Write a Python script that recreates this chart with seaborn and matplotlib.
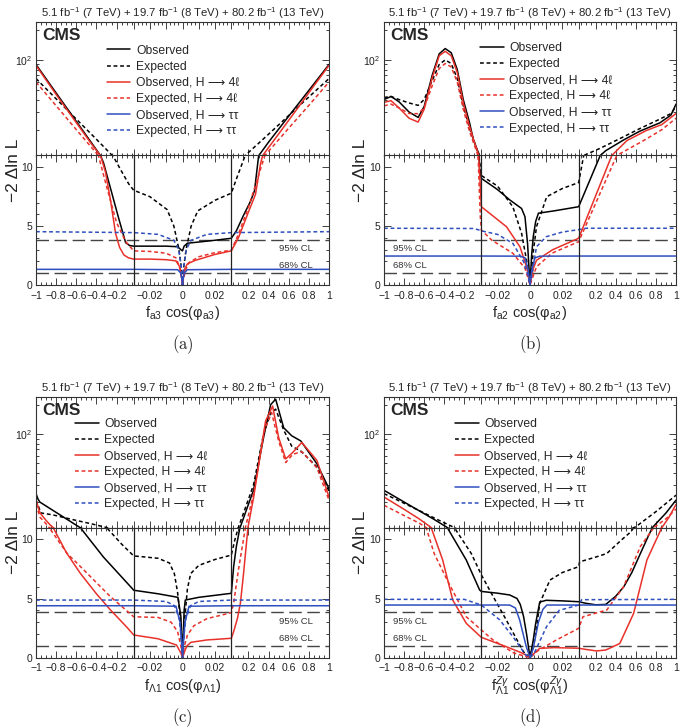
import numpy as np
import pandas as pd
import matplotlib
matplotlib.use("Agg")
import matplotlib.pyplot as plt
import seaborn as sns
from matplotlib.ticker import FixedLocator, FixedFormatter, NullFormatter, LogLocator

# SERIES / STYLE
labels = ["Observed", "Expected",
          "Observed, H \u27f6 4\u2113", "Expected, H \u27f6 4\u2113",
          "Observed, H \u27f6 \u03c4\u03c4", "Expected, H \u27f6 \u03c4\u03c4"]
line_colors = ["black", "black", "#e8312a", "#e8312a", "#2f4fbf", "#2f4fbf"]
line_dashes = ["", (2.5, 1.8), "", (2.5, 1.8), "", (2.5, 1.8)]

# PANEL (a): f_a3 cos(phi_a3)
a_obs_x = [-1, -0.8, -0.6, -0.45, -0.36, -0.33, -0.25, -0.18, -0.11, -0.07, -0.03,
           -0.02, -0.01, -0.003, -0.001, 0, 0.001, 0.003, 0.01, 0.02, 0.03,
           0.08, 0.15, 0.22, 0.26, 0.3, 0.32, 0.4, 0.6, 0.8, 1]
a_obs_y = [90, 46.6, 24.2, 14.8, 11.0, 10.4, 7.9, 5.7, 3.6, 3.35, 3.3,
           3.3, 3.3, 3.25, 3.0, 2.9, 3.3, 3.55, 3.65, 3.8, 3.97,
           4.6, 5.9, 7.1, 8.0, 10.9, 11.6, 15, 27.3, 49.5, 90]
a_exp_x = [-1, -0.8, -0.6, -0.4, -0.25, -0.16, -0.08, -0.03,
           -0.02, -0.0094, -0.0053, -0.0023, -0.0008, 0, 0.0008, 0.0023, 0.0053, 0.0094, 0.02, 0.03,
           0.08, 0.15, 0.18, 0.4, 0.6, 0.8, 1]
a_exp_y = [65, 40.7, 25.5, 16, 11.2, 9.8, 8.6, 8.05,
           7.5, 6.4, 5.0, 3.1, 1.6, 0, 1.6, 3.1, 5.0, 6.3, 7.2, 7.8,
           9.0, 10.6, 11.3, 18, 27.7, 42.5, 65]
a_4l_obs_x = [-1, -0.8, -0.6, -0.45, -0.37, -0.31, -0.26, -0.21, -0.17, -0.127, -0.08, -0.03,
              -0.02, -0.01, -0.004, -0.0015, -0.0005, 0, 0.0005, 0.0015, 0.003, 0.008, 0.02, 0.03,
              0.1, 0.2, 0.27, 0.32, 0.35, 0.5, 0.7, 0.85, 1]
a_4l_obs_y = [88, 45, 23.5, 14.4, 11.3, 9.6, 7.2, 4.4, 3.2, 2.55, 2.3, 2.2,
              2.2, 2.15, 2.05, 1.5, 0.6, 0, 0.6, 1.4, 1.8, 2.1, 2.6, 2.9,
              4.0, 6.2, 7.7, 10.3, 11.3, 18.1, 34, 55, 88]
a_4l_exp_x = [-1, -0.8, -0.6, -0.38, -0.3, -0.2, -0.11, -0.03,
              -0.02, -0.01, -0.004, -0.002, -0.0007, 0, 0.0007, 0.002, 0.004, 0.01, 0.02, 0.03,
              0.1, 0.2, 0.3, 0.37, 0.6, 0.8, 1]
a_4l_exp_y = [60, 34.7, 20, 11, 8.4, 5.3, 3.7, 2.9,
              2.85, 2.7, 2.3, 1.6, 0.7, 0, 0.6, 1.3, 1.9, 2.4, 2.75, 2.95,
              4.3, 6.6, 9.3, 11.2, 20.7, 35, 60]
a_tt_obs_x = [-1, -0.03, -0.003, -0.001, -0.0003, 0, 0.0003, 0.001, 0.003, 0.03, 1]
a_tt_obs_y = [1.33, 1.33, 1.3, 1.0, 0.4, 0, 0.4, 1.0, 1.3, 1.33, 1.33]
a_tt_exp_x = [-1, -0.03, -0.015, -0.0053, -0.0023, -0.0008, 0, 0.0008, 0.0023, 0.0053, 0.015, 0.03, 1]
a_tt_exp_y = [4.53, 4.45, 4.3, 3.8, 3.0, 1.6, 0, 1.6, 3.0, 3.8, 4.3, 4.45, 4.53]

# PANEL (b): f_a2 cos(phi_a2)
b_obs_x = [-1, -0.93, -0.85, -0.75, -0.66, -0.6, -0.52, -0.45, -0.39, -0.33, -0.27, -0.21,
           -0.15, -0.11, -0.07, -0.055, -0.047, -0.03,
           -0.02, -0.0124, -0.0052, -0.0031, -0.0015, 0, 0.001, 0.002, 0.0035, 0.0052, 0.015, 0.03,
           0.245, 0.3, 0.48, 0.64, 0.84, 0.95, 1]
b_obs_y = [40, 43, 38, 30, 26.5, 34, 70, 115, 130, 118, 80, 40,
           24, 16, 12.5, 11.5, 9.8, 9.06,
           8.1, 7.22, 6.5, 5.8, 3.5, 0, 2.5, 4.1, 5.4, 6.1, 6.3, 6.65,
           11, 12.3, 15.8, 19.3, 23.4, 28, 36]
b_exp_x = [-1, -0.93, -0.85, -0.75, -0.66, -0.6, -0.52, -0.45, -0.39, -0.33, -0.27, -0.21,
           -0.15, -0.1, -0.07, -0.055, -0.04, -0.03,
           -0.02, -0.0106, -0.0052, -0.002, 0, 0.002, 0.004, 0.0103, 0.02, 0.03,
           0.08, 0.245, 0.48, 0.64, 0.84, 0.95, 1]
b_exp_y = [42, 43, 40, 37, 35, 40, 62, 90, 100, 92, 65, 35,
           21, 15, 12, 11, 10, 9.3,
           8.4, 6.65, 4.4, 2.0, 0, 2.8, 4.95, 7.5, 8.2, 8.7,
           11, 13, 17, 20.5, 25.5, 29, 34]
b_4l_obs_x = [-1, -0.93, -0.85, -0.75, -0.66, -0.6, -0.52, -0.45, -0.39, -0.33, -0.27, -0.21,
              -0.15, -0.1, -0.07, -0.058, -0.045, -0.035, -0.03,
              -0.0145, -0.0062, -0.002, 0, 0.002, 0.004, 0.014, 0.03,
              0.36, 0.51, 0.7, 0.86, 1]
b_4l_obs_y = [37.5, 39, 33, 26, 23.8, 32, 66, 110, 122, 110, 75, 37,
              22, 15, 12.3, 11.2, 9.2, 7.5, 6.65,
              4.95, 3.25, 1.5, 0, 1.4, 2.1, 3.0, 3.97,
              11, 15.5, 19.5, 22.5, 29]
b_4l_exp_x = [-1, -0.93, -0.85, -0.75, -0.66, -0.6, -0.52, -0.45, -0.39, -0.33, -0.27, -0.21,
              -0.15, -0.1, -0.07, -0.06, -0.05, -0.04, -0.03,
              -0.0235, -0.0106, -0.003, 0, 0.004, 0.0135, 0.03,
              0.41, 0.69, 0.86, 1]
b_4l_exp_y = [34.6, 36, 33, 29, 28.9, 33, 55, 82, 92, 85, 60, 32,
              19.5, 14, 11.5, 10.5, 8.0, 5.8, 4.67,
              3.8, 2.7, 1.4, 0, 1.55, 2.7, 3.68,
              11, 15.8, 20, 26]
b_tt_obs_x = [-1, -0.03, -0.006, -0.003, -0.001, 0, 0.001, 0.003, 0.006, 0.03, 1]
b_tt_obs_y = [2.46, 2.46, 2.45, 2.3, 1.2, 0, 1.2, 2.3, 2.45, 2.46, 2.46]
b_tt_exp_x = [-1, -0.1, -0.03, -0.02, -0.0106, -0.004, -0.0015, 0, 0.0015, 0.004, 0.01, 0.02, 0.03, 0.1, 1]
b_tt_exp_y = [4.82, 4.8, 4.6, 4.3, 3.54, 2.0, 0.9, 0, 1.2, 3.25, 4.1, 4.5, 4.7, 4.82, 4.82]

# PANEL (c): f_L1 cos(phi_L1)
c_obs_x = [-1, -0.98, -0.96, -0.57, -0.33, -0.046, -0.03,
           -0.015, -0.0028, -0.001, 0, 0.001, 0.0017, 0.01, 0.03,
           0.053, 0.08, 0.12, 0.25, 0.35, 0.42, 0.47, 0.55, 0.63, 0.72, 0.88, 1]
c_obs_y = [24.5, 21.5, 20, 11.1, 8.5, 5.86, 5.7,
           5.4, 5.1, 3.5, 0, 4.0, 4.87, 5.1, 5.44,
           7.7, 9.4, 11.2, 26.5, 92, 200, 228, 116, 96, 85, 49.5, 27.6]
c_exp_x = [-1, -0.95, -0.83, -0.6, -0.45, -0.3, -0.15, -0.03,
           -0.015, -0.008, -0.005, -0.003, -0.0015, 0, 0.0015, 0.003, 0.005, 0.01, 0.02, 0.03,
           0.063, 0.1, 0.25, 0.35, 0.42, 0.47, 0.55, 0.63, 0.72, 0.88, 1]
c_exp_y = [21, 15.5, 14.8, 13, 12, 11, 9.6, 8.6,
           8.4, 8.0, 7.1, 5.5, 3.5, 0, 3.5, 5.8, 7.1, 7.8, 8.3, 8.67,
           9.9, 11, 30, 100, 165, 180, 110, 75, 67, 46, 26]
c_4l_obs_x = [-1, -0.96, -0.9, -0.86, -0.83, -0.7, -0.56, -0.4, -0.26, -0.1, -0.03,
              -0.015, -0.0037, -0.001, 0, 0.0015, 0.0027, 0.0052, 0.015, 0.03,
              0.053, 0.09, 0.12, 0.15, 0.186, 0.195, 0.25, 0.37, 0.44, 0.5, 0.57, 0.64, 0.73, 0.88, 1]
c_4l_obs_y = [21, 15.5, 13, 11.7, 11, 8.9, 7.13, 5.4, 4.03, 2.6, 1.92,
              1.6, 1.07, 0.4, 0, 0.6, 1.0, 1.3, 1.5, 1.64,
              2.2, 3.3, 4.6, 7.0, 10.2, 11, 22, 136, 194, 92, 55.6, 64.8, 82, 53.6, 22.6]
c_4l_exp_x = [-1, -0.96, -0.9, -0.87, -0.69, -0.594, -0.26, -0.03,
              -0.015, -0.007, -0.003, -0.001, 0, 0.001, 0.003, 0.007, 0.015, 0.03,
              0.053, 0.1, 0.17, 0.25, 0.36, 0.43, 0.5, 0.57, 0.64, 0.73, 0.88, 1]
c_4l_exp_y = [19, 14, 12, 11, 8.8, 8.0, 5.15, 3.46,
              3.4, 3.0, 2.2, 1.0, 0, 0.9, 1.9, 2.7, 3.3, 3.8,
              4.6, 7.4, 11, 24, 110, 166, 85, 51, 62, 66, 45, 21]
c_tt_obs_x = [-1, -0.03, -0.004, -0.0015, -0.0005, 0, 0.0005, 0.0015, 0.004, 0.03, 1]
c_tt_obs_y = [4.39, 4.39, 4.35, 3.0, 1.2, 0, 1.2, 3.0, 4.35, 4.39, 4.39]
c_tt_exp_x = [-1, -0.03, -0.01, -0.005, -0.002, -0.0007, 0, 0.0007, 0.002, 0.005, 0.01, 0.03, 1]
c_tt_exp_y = [4.87, 4.87, 4.75, 4.4, 3.3, 1.6, 0, 1.6, 3.3, 4.4, 4.75, 4.87, 4.87]

# PANEL (d): f_L1^Zg cos(phi_L1^Zg)
d_obs_x = [-1, -0.7, -0.5, -0.37, -0.18, -0.047, -0.03,
           -0.02, -0.0125, -0.008, -0.006, -0.004, -0.002, 0, 0.002, 0.0035, 0.006, 0.01, 0.02, 0.03,
           0.1, 0.2, 0.3, 0.4, 0.48, 0.56, 0.645, 0.72, 0.765, 0.9, 1]
d_obs_y = [26.5, 17.5, 13.3, 11, 8.25, 5.72, 5.6,
           5.45, 5.3, 5.0, 4.5, 3.5, 1.9, 0, 1.5, 2.9, 4.7, 4.85, 4.8, 4.73,
           4.6, 4.47, 4.5, 5.2, 6.0, 7.2, 8.8, 10.2, 11, 15.5, 21]
d_exp_x = [-1, -0.8, -0.6, -0.45, -0.3, -0.13, -0.03,
           -0.0249, -0.02, -0.0146, -0.008, -0.004, 0, 0.002, 0.004, 0.006, 0.0123, 0.02, 0.03,
           0.04, 0.2, 0.31, 0.45, 0.545, 0.6, 0.8, 1]
d_exp_y = [24.5, 19.5, 15.5, 13, 11, 8.8, 7.0,
           5.72, 4.5, 3.18, 1.5, 0.5, 0, 0.8, 2.5, 4.6, 6.56, 7.2, 7.69,
           8.1, 8.5, 8.8, 9.9, 10.6, 11.2, 16, 23.6]
d_4l_obs_x = [-1, -0.8, -0.65, -0.53, -0.415, -0.315, -0.18, -0.03,
              -0.0146, -0.005, -0.001, 0, 0.002, 0.006, 0.015, 0.03,
              0.1, 0.209, 0.3, 0.44, 0.578, 0.71, 0.848, 0.86, 0.93, 1]
d_4l_obs_y = [22.6, 16.9, 13.5, 11, 8.25, 4.87, 2.9, 1.72,
              0.93, 0.4, 0.1, 0, 0.3, 0.79, 0.85, 0.8,
              0.7, 0.57, 0.65, 1.2, 3.75, 8.25, 10.8, 11, 14, 19]
d_4l_exp_x = [-1, -0.8, -0.65, -0.58, -0.5, -0.37, -0.18, -0.03,
              -0.0228, -0.01, 0, 0.005, 0.0163, 0.03,
              0.073, 0.31, 0.478, 0.645, 0.78, 0.9, 1]
d_4l_exp_y = [18.6, 14.6, 12.2, 11, 8.8, 6.56, 3.46, 2.34,
              1.5, 0.4, 0, 0.6, 1.5, 2.48,
              3.46, 4.03, 6.0, 9.4, 11, 13.5, 17]
d_tt_obs_x = [-1, -0.03, -0.0125, -0.009, -0.0064, -0.0023, 0, 0.002, 0.0052, 0.008, 0.0104, 0.03, 1]
d_tt_obs_y = [4.45, 4.45, 4.45, 4.2, 3.2, 0.93, 0, 0.8, 3.0, 4.1, 4.45, 4.45, 4.45]
d_tt_exp_x = [-1, -0.2, -0.03, -0.0187, -0.0105, -0.003, 0, 0.003, 0.0101, 0.018, 0.03, 0.06, 1]
d_tt_exp_y = [4.93, 4.93, 4.45, 3.2, 1.77, 0.3, 0, 0.5, 2.6, 4.0, 4.45, 4.9, 4.93]

lumi_text = ("5.1 fb$^{-1}$ (7 TeV) + 19.7 fb$^{-1}$ (8 TeV) + "
             "80.2 fb$^{-1}$ (13 TeV)")
xlabels = [r"f$_{\rm a3}$ cos(φ$_{\rm a3}$)",
           r"f$_{\rm a2}$ cos(φ$_{\rm a2}$)",
           r"f$_{\Lambda1}$ cos(φ$_{\Lambda1}$)",
           r"f$^{Z\gamma}_{\Lambda1}$ cos(φ$^{Z\gamma}_{\Lambda1}$)"]
captions = ["a", "b", "c", "d"]

# x tick layout: broken axis [-1,-0.03] | [-0.03,0.03] | [0.03,1]
major_x = [-1, -0.8, -0.6, -0.4, -0.2, -0.03, -0.02, -0.01, 0, 0.01, 0.02, 0.03,
           0.2, 0.4, 0.6, 0.8, 1]
major_lbl = ["\u22121", "\u22120.8", "\u22120.6", "\u22120.4", "\u22120.2", "",
             "\u22120.02", "", "0", "", "0.02", "", "0.2", "0.4", "0.6", "0.8", "1"]
minor_x = list(np.arange(-1, -0.03, 0.05)) + list(np.arange(-0.03, 0.03, 0.0025)) + \
    list(np.arange(0.05, 1.0001, 0.05))


def fwd(x):
    x = np.asarray(x, dtype=float)
    return np.where(x < -0.03, -0.5 + (x + 0.03) / 0.97,
                    np.where(x > 0.03, 0.5 + (x - 0.03) / 0.97, x / 0.06))


def inv(u):
    u = np.asarray(u, dtype=float)
    return np.where(u < -0.5, (u + 0.5) * 0.97 - 0.03,
                    np.where(u > 0.5, (u - 0.5) * 0.97 + 0.03, u * 0.06))


def make_frame(xs, ys):
    parts = []
    for lab, x, y in zip(labels, xs, ys):
        parts.append(pd.DataFrame({"x": x, "y": y, "series": lab}))
    return pd.concat(parts, ignore_index=True)


sns.set_style("ticks")
plt.rcParams["font.family"] = ["Liberation Sans", "DejaVu Sans"]
plt.rcParams["mathtext.fontset"] = "custom"
plt.rcParams["mathtext.rm"] = "Liberation Sans"
plt.rcParams["mathtext.it"] = "Liberation Sans:italic"
plt.rcParams["mathtext.bf"] = "Liberation Sans:bold"

W, H = 685, 728
fig = plt.figure(figsize=(W / 100, H / 100), dpi=100)

panels = [
    dict(xs=[a_obs_x, a_exp_x, a_4l_obs_x, a_4l_exp_x, a_tt_obs_x, a_tt_exp_x],
         ys=[a_obs_y, a_exp_y, a_4l_obs_y, a_4l_exp_y, a_tt_obs_y, a_tt_exp_y],
         px=(36, 329), py=(22, 155.5, 285), leg=(0.242, 0.83), cl="right"),
    dict(xs=[b_obs_x, b_exp_x, b_4l_obs_x, b_4l_exp_x, b_tt_obs_x, b_tt_exp_x],
         ys=[b_obs_y, b_exp_y, b_4l_obs_y, b_4l_exp_y, b_tt_obs_y, b_tt_exp_y],
         px=(384, 676), py=(22, 155.5, 285), leg=(0.329, 0.85), cl="left"),
    dict(xs=[c_obs_x, c_exp_x, c_4l_obs_x, c_4l_exp_x, c_tt_obs_x, c_tt_exp_x],
         ys=[c_obs_y, c_exp_y, c_4l_obs_y, c_4l_exp_y, c_tt_obs_y, c_tt_exp_y],
         px=(36, 329), py=(397, 527.5, 657.7), leg=(0.133, 0.84), cl="right"),
    dict(xs=[d_obs_x, d_exp_x, d_4l_obs_x, d_4l_exp_x, d_tt_obs_x, d_tt_exp_x],
         ys=[d_obs_y, d_exp_y, d_4l_obs_y, d_4l_exp_y, d_tt_obs_y, d_tt_exp_y],
         px=(384, 676), py=(397, 527.5, 657.7), leg=(0.243, 0.84), cl="left"),
]

palette = dict(zip(labels, line_colors))
dashes = dict(zip(labels, line_dashes))

for i, p in enumerate(panels):
    df = make_frame(p["xs"], p["ys"])
    x0, x1 = p["px"]
    yt, ym, yb = p["py"]
    ax_top = fig.add_axes([x0 / W, 1 - ym / H, (x1 - x0) / W, (ym - yt) / H])
    ax_bot = fig.add_axes([x0 / W, 1 - yb / H, (x1 - x0) / W, (yb - ym) / H])

    for ax, show_leg in ((ax_top, True), (ax_bot, False)):
        ax.set_xscale("function", functions=(fwd, inv))
        sns.lineplot(data=df, x="x", y="y", hue="series", style="series",
                     hue_order=labels, style_order=labels, palette=palette,
                     dashes=dashes, estimator=None, sort=False, lw=1.1,
                     legend=show_leg, ax=ax)
        ax.set_xlim(-1, 1)
        ax.xaxis.set_major_locator(FixedLocator(major_x))
        ax.xaxis.set_minor_locator(FixedLocator(minor_x))
        ax.set_xlabel("")
        ax.set_ylabel("")
        ax.tick_params(which="both", direction="in", top=True, right=True,
                       width=0.6, colors="#222", labelsize=7.5)
        ax.tick_params(axis="x", pad=4)
        ax.tick_params(axis="y", pad=2.5)
        ax.tick_params(which="major", length=5)
        ax.tick_params(which="minor", length=2.5)
        for s in ax.spines.values():
            s.set_linewidth(0.8)
            s.set_color("#333")

    # upper part: log scale
    ax_top.set_yscale("log")
    ax_top.set_ylim(11, 240)
    ax_top.yaxis.set_major_locator(LogLocator(base=10, numticks=5))
    ax_top.yaxis.set_minor_locator(LogLocator(base=10, subs=np.arange(2, 10), numticks=10))
    ax_top.yaxis.set_minor_formatter(NullFormatter())
    ax_top.xaxis.set_major_formatter(NullFormatter())

    # lower part: linear scale
    ax_bot.set_ylim(0, 11)
    ax_bot.yaxis.set_major_locator(FixedLocator([0, 5, 10]))
    ax_bot.yaxis.set_minor_locator(FixedLocator(np.arange(1, 11)))
    ax_bot.xaxis.set_major_formatter(FixedFormatter(major_lbl))
    for v in (-0.03, 0.03):
        ax_bot.axvline(v, color="#222", lw=0.9, zorder=5)
    for v in (1.0, 3.84):
        ax_bot.axhline(v, color="#444", lw=1.0, dashes=(9, 4), zorder=1)

    # confidence level labels
    trans = ax_bot.get_yaxis_transform()
    if p["cl"] == "right":
        xa, ha = 0.945, "right"
    else:
        xa, ha = 0.03, "left"
    ax_bot.text(xa, 3.1, "95% CL", transform=trans, ha=ha, va="center", fontsize=6.8, color="#333")
    ax_bot.text(xa, 1.65, "68% CL", transform=trans, ha=ha, va="center", fontsize=6.8, color="#333")

    # legend
    leg = ax_top.get_legend()
    handles = leg.legend_handles
    texts = [t.get_text() for t in leg.get_texts()]
    leg.remove()
    ax_top.legend(handles, texts, loc="upper left", bbox_to_anchor=p["leg"],
                  frameon=False, borderpad=0, borderaxespad=0, fontsize=8.7,
                  handlelength=1.95, handletextpad=0.45, labelspacing=0.34)

    ax_top.text(0.02, 0.9, "CMS", transform=ax_top.transAxes, ha="left", va="center",
                fontsize=12.5, fontweight="bold")

    # outer texts
    fig.text((x1 - 5) / W, 1 - (yt - 9) / H, lumi_text, ha="right", va="center", fontsize=8.2)
    fig.text((x0 - 23) / W, 1 - (ym + 15) / H, "\u22122 \u0394ln L", rotation=90,
             ha="center", va="center", fontsize=12.5)
    fig.text((x0 + x1) / 2 / W, 1 - (yb + 28) / H, xlabels[i], ha="center", va="center",
             fontsize=10.5)
    fig.text((x0 + x1) / 2 / W, 1 - (yb + 60) / H, r"$(\mathrm{%s})$" % captions[i],
             ha="center", va="center", fontsize=12, math_fontfamily="cm")

fig.savefig("out.png", dpi=100)
